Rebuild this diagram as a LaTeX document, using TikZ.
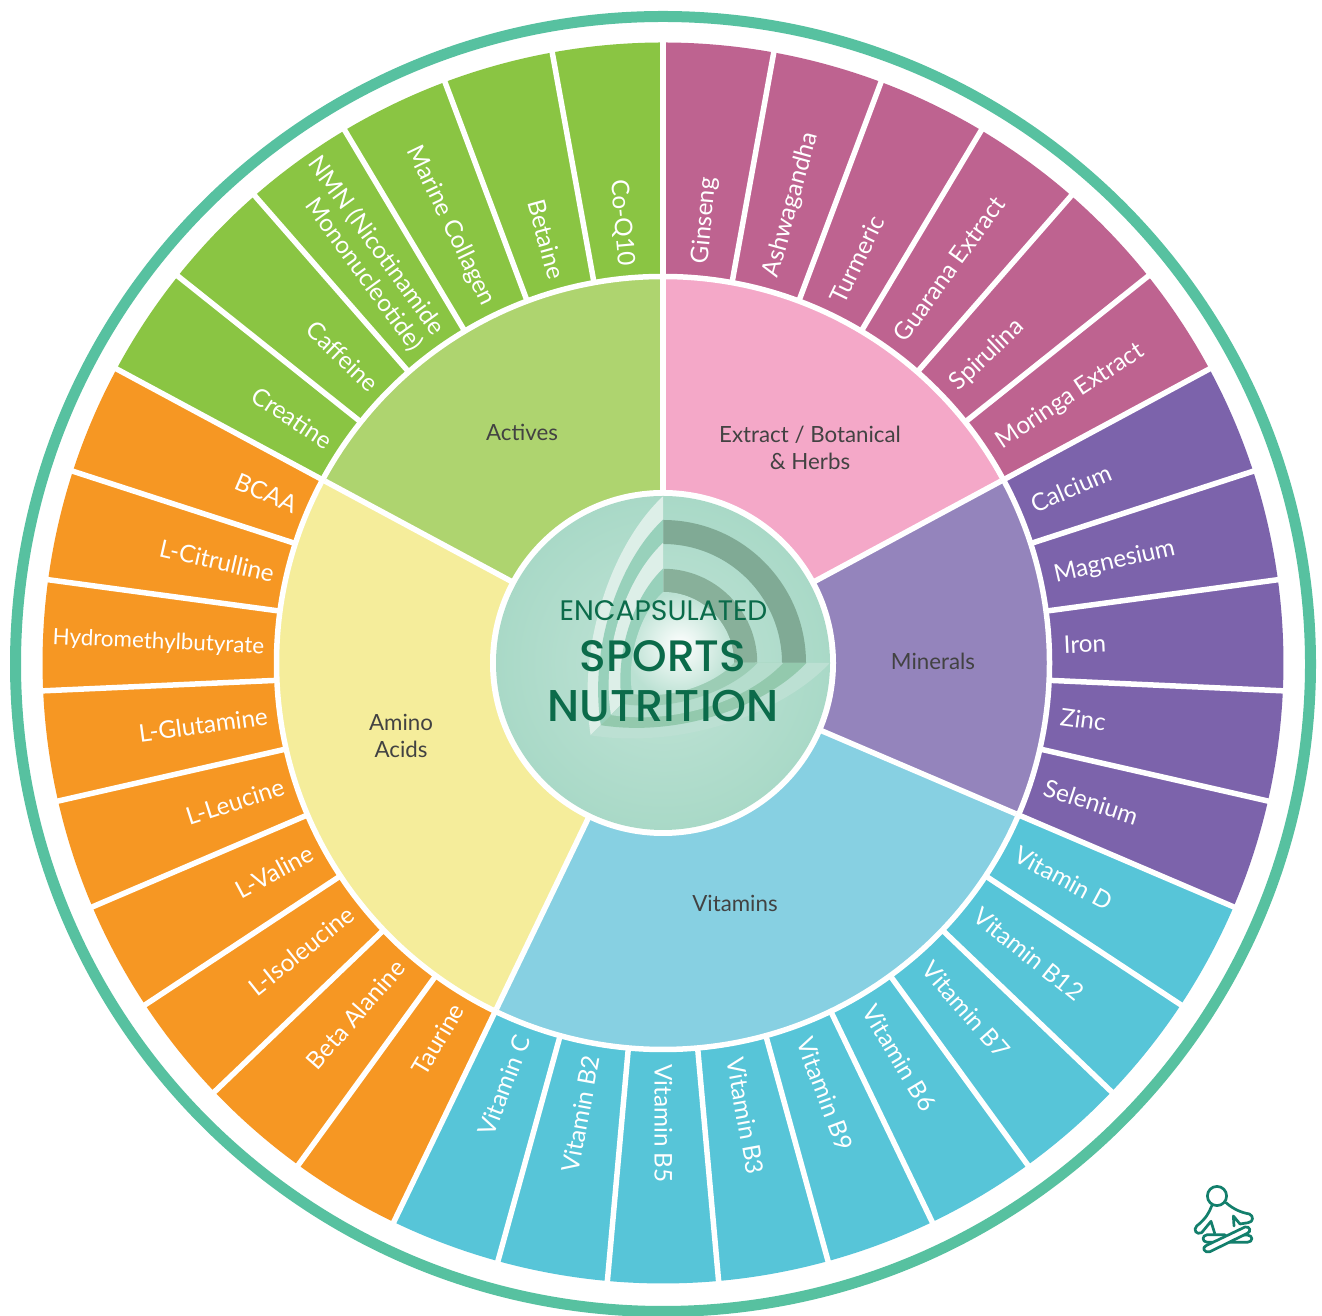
\documentclass[tikz,border=0pt]{standalone}
\usepackage{fontspec}
\setmainfont{Lato}
\newfontfamily\midfont{Lato}
\newfontfamily\titlefont{Poppins}
\newfontfamily\titleboldfont{Poppins Medium}
\definecolor{ringc}{HTML}{57C1A0}
\definecolor{ogreen}{HTML}{8AC543}
\definecolor{opink}{HTML}{BE6390}
\definecolor{opurple}{HTML}{7C63AB}
\definecolor{oblue}{HTML}{57C5D8}
\definecolor{oorange}{HTML}{F69723}
\definecolor{mgreen}{HTML}{AED46F}
\definecolor{mpink}{HTML}{F4A8C8}
\definecolor{mpurple}{HTML}{9484BC}
\definecolor{mblue}{HTML}{87D0E2}
\definecolor{myellow}{HTML}{F5ED9B}
\definecolor{discc}{HTML}{A9D9C7}
\definecolor{titlec}{HTML}{0B6B4A}
\definecolor{iconc}{HTML}{137F6C}
\definecolor{darkband}{HTML}{80AA95}
\definecolor{darkbandb}{HTML}{88B09A}
\definecolor{lobeA}{HTML}{DDEFE8}
\definecolor{lobeB}{HTML}{98D1BB}
\definecolor{lobeC}{HTML}{BCE0D3}
\definecolor{lobeD}{HTML}{93C9AD}
\definecolor{lobeE}{HTML}{B5DDCD}
\definecolor{lobeF}{HTML}{9CCDB5}
\tikzset{
  x=1pt,y=1pt,
  outerlabel/.style={text=white,font=\fontsize{24.3}{27}\selectfont,inner sep=0pt,text height=17pt,text depth=0pt},
  twolabel/.style={text=white,font=\fontsize{24.3}{27}\selectfont,inner sep=0pt,align=right},
  widelabel/.style={outerlabel,font=\fontsize{22.4}{27}\selectfont},
  midlabel/.style={text=black!74,font=\midfont\fontsize{22.3}{27}\selectfont,align=center,inner sep=0pt},
  sep/.style={draw=white,line width=5.5pt},
  iconline/.style={draw=iconc,line width=2.7pt,line cap=round,line join=round}
}
\newcommand{\outerseg}[2]{%
  \pgfmathsetmacro{\sa}{90-#2*360/35}\pgfmathsetmacro{\ea}{90-(#2+1)*360/35}%
  \fill[#1] (\sa:384pt) -- (\sa:620.5pt) arc[start angle=\sa,end angle=\ea,radius=620.5pt] -- (\ea:384pt) arc[start angle=\ea,end angle=\sa,radius=384pt] -- cycle;}
\newcommand{\midseg}[3]{%
  \pgfmathsetmacro{\sa}{90-#2*360/35}\pgfmathsetmacro{\ea}{90-#3*360/35}%
  \fill[#1] (0,0) -- (\sa:385pt) arc[start angle=\sa,end angle=\ea,radius=385pt] -- cycle;}
\newcommand{\lobeL}{(0,0) -- (0,1) .. controls (-0.3,0.72) and (-0.52,0.12) .. (-0.434,-0.434) -- cycle}
\newcommand{\lobeR}{(0,0) -- (1,0) .. controls (0.72,-0.3) and (0.12,-0.52) .. (-0.434,-0.434) -- cycle}
\begin{document}
\begin{tikzpicture}
\useasboundingbox (0,0) rectangle (1322,1316);
\fill[white] (0,0) rectangle (1322,1316);
\begin{scope}
\clip (0,0) rectangle (1322,1316);
\draw[ringc,line width=11pt] (663,652) circle[radius=647.5pt];
\end{scope}
\begin{scope}[shift={(663,653)}]
% outer band
\foreach \k in {0,...,5}{\outerseg{opink}{\k}}
\foreach \k in {6,...,10}{\outerseg{opurple}{\k}}
\foreach \k in {11,...,19}{\outerseg{oblue}{\k}}
\foreach \k in {20,...,28}{\outerseg{oorange}{\k}}
\foreach \k in {29,...,34}{\outerseg{ogreen}{\k}}
\foreach \k in {0,...,34}{\pgfmathsetmacro{\a}{90-\k*360/35}\draw[sep] (\a:380pt) -- (\a:625pt);}
% middle band
\midseg{mpink}{0}{6}
\midseg{mpurple}{6}{11}
\midseg{mblue}{11}{20}
\midseg{myellow}{20}{29}
\midseg{mgreen}{29}{35}
\draw[white,line width=5.5pt] (0,0) circle[radius=386.5pt];
\foreach \k in {0,6,11,20,29}{\pgfmathsetmacro{\a}{90-\k*360/35}\draw[sep] (0,0) -- (\a:384pt);}
% centre disc
\fill[white] (0,0) circle[radius=173pt];
\shade[inner color=discc!72!white,outer color=discc] (0,0) circle[radius=167pt];
\draw[darkband,line width=24pt] (0,131) arc[start angle=90,end angle=0,radius=131pt];
\draw[darkbandb,line width=23.5pt] (0,82.5) arc[start angle=90,end angle=0,radius=82.5pt];
\foreach \s/\cl/\cb in {166.7/lobeA/lobeC,143.3/lobeB/lobeD,120/lobeA/lobeE,94.3/lobeB/lobeF}{
  \begin{scope}[x=\s pt,y=\s pt]
    \fill[\cl] \lobeL;
    \fill[\cb] \lobeR;
  \end{scope}
}
\begin{scope}[x=71pt,y=71pt]
  \shade[inner color=white,outer color=discc!80!white] (-0.434,-0.434) .. controls (-0.52,0.12) and (-0.3,0.72) .. (0,1) arc[start angle=90,end angle=0,radius=71pt] .. controls (0.72,-0.3) and (0.12,-0.52) .. (-0.434,-0.434) -- cycle;
\end{scope}
\node[text=titlec,font=\titlefont\fontsize{28.2}{30}\selectfont,inner sep=0pt] (ttlA) at (0.5,52) {ENCAPSULATED};
\node[text=titlec,font=\titleboldfont\fontsize{44}{44}\selectfont,inner sep=0pt] (ttlB) at (0,7) {SPORTS};
\node[text=titlec,font=\titleboldfont\fontsize{44.5}{44}\selectfont,inner sep=0pt] (ttlC) at (0,-43) {NUTRITION};
% middle labels
\node[midlabel] (mExt) at (147,215) {Extract / Botanical\\\& Herbs};
\node[midlabel] (mMin) at (270,2) {Minerals};
\node[midlabel] (mVit) at (72,-240) {Vitamins};
\node[midlabel] (mAmi) at (-262,-73) {Amino\\Acids};
\node[midlabel] (mAct) at (-141,231) {Actives};
% outer labels
\foreach \t [count=\k from 0] in {Ginseng,Ashwagandha,Turmeric,Guarana Extract,Spirulina,Moringa Extract,Calcium,Magnesium,Iron,Zinc,Selenium,Vitamin D,Vitamin B12,Vitamin B7,Vitamin B6,Vitamin B9,Vitamin B3,Vitamin B5,Vitamin B2,Vitamin C,Taurine,Beta Alanine,L-Isoleucine,L-Valine,L-Leucine,L-Glutamine,Hydromethylbutyrate,L-Citrulline,BCAA,Creatine,Caffeine,{NMN (Nicotinamide\\Mononucleotide)},Marine Collagen,Betaine,Co-Q10}{
  \pgfmathsetmacro{\a}{90-(\k+0.5)*360/35}
  \pgfmathtruncatemacro{\isleft}{\k>17 ? 1 : 0}
  \ifnum\isleft=0
    \node[outerlabel,anchor=west,rotate=\a] (lab\k) at (\a:401pt) {\t};
  \else
    \pgfmathsetmacro{\b}{\a+180}
    \ifnum\k=31
      \node[twolabel,anchor=east,rotate=\b] (lab\k) at (\a:399pt) {\t};
    \else\ifnum\k=26
      \node[widelabel,anchor=east,rotate=\b] (lab\k) at (\a:399pt) {\t};
    \else
      \node[outerlabel,anchor=east,rotate=\b] (lab\k) at (\a:399pt) {\t};
    \fi\fi
  \fi
}
\end{scope}
% icon
\begin{scope}[shift={(1150,166)},x=0.3333pt,y=-0.3333pt]
  \draw[iconline] (201,138) circle[radius=9.6pt];
  \draw[iconline] (185,168) .. controls (172,200) and (160,212) .. (140,228) .. controls (128,240) and (140,256) .. (155,248) -- (183,214) -- (194,250);
  \draw[iconline] (228,158) .. controls (250,178) and (275,188) .. (298,192) .. controls (312,198) and (310,216) .. (295,218) -- (270,222) -- (250,198) -- (252,228);
  \draw[iconline] (225,254) -- (172,254) .. controls (155,256) and (155,276) .. (172,277) -- (292,277) .. controls (310,276) and (310,256) .. (292,255) -- (265,255);
  \draw[iconline,fill=white] (168,287) -- (285,231) .. controls (300,228) and (305,245) .. (292,250) -- (180,305) .. controls (162,310) and (155,293) .. (168,287) -- cycle;
\end{scope}
\end{tikzpicture}
\end{document}
